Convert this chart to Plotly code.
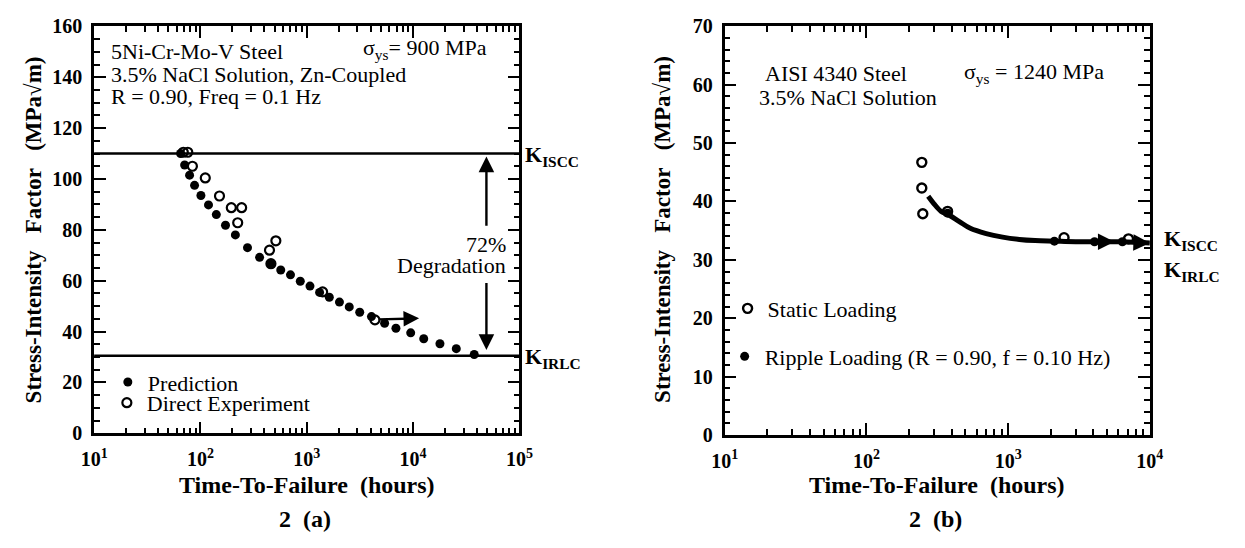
import numpy as np
import plotly.graph_objects as go

W, H = 1245, 548

# ---------------- Panel 2(a) data ----------------
a_pred_t = [65, 71, 79, 88, 101, 119, 141, 172, 213, 277, 360, 460, 569, 703, 869,
            1072, 1320, 1630, 2030, 2510, 3150, 4060, 5400, 6900, 9500, 12600,
            17900, 25500, 37600]
a_pred_k = [110, 105.5, 101.5, 97.5, 93.5, 89.8, 86.0, 81.8, 78.0, 73.0, 69.2, 66.5,
            64.2, 62.3, 59.8, 57.9, 55.4, 53.5, 51.6, 49.7, 47.6, 45.9, 43.3, 41.3,
            39.5, 37.2, 35.2, 33.3, 31.0]
a_exp_t = [69, 76, 84, 111, 151, 195, 244, 224, 512, 446, 460, 1410, 4380]
a_exp_k = [110.5, 110.5, 105.0, 100.4, 93.3, 88.7, 88.7, 82.8, 75.7, 72.0, 66.7, 55.6, 44.6]
a_kiscc = 110
a_kirlc = 30.5
a_y_ticks = [0, 20, 40, 60, 80, 100, 120, 140, 160]

# ---------------- Panel 2(b) data ----------------
b_curve_t = [273, 300, 337, 374, 450, 541, 700, 914, 1200, 1550, 2120, 3000, 4070, 6400, 10000]
b_curve_k = [40.9, 39.6, 38.3, 37.8, 36.6, 35.4, 34.5, 33.9, 33.5, 33.3, 33.2, 33.1, 33.1, 33.1, 32.9]
b_ripple_t = [374, 2120, 4070, 6400]
b_ripple_k = [38.0, 33.2, 33.1, 33.1]
b_static_t = [246, 246, 250, 374, 2480, 7070]
b_static_k = [46.7, 42.3, 37.9, 38.3, 33.8, 33.6]
b_y_ticks = [0, 10, 20, 30, 40, 50, 60, 70]

x_decades_a = [1, 2, 3, 4, 5]
x_decades_b = [1, 2, 3, 4]

SERIF = "Liberation Serif"
NB = "\u00a0"


def px(x):
    return x / W


def py(y):
    return 1 - y / H


def minor_log(decs):
    vals = []
    for d in decs[:-1]:
        for m in range(2, 10):
            vals.append(m * 10 ** d)
    return vals


def log_ticktext(decs):
    return [f"10<sup>{d}</sup>" for d in decs]


fig = go.Figure()

# Panel (a)
fig.add_trace(go.Scatter(x=a_pred_t, y=a_pred_k, mode="markers", name="Prediction",
                         marker=dict(symbol="circle", size=9, color="black"),
                         xaxis="x", yaxis="y", legend="legend", cliponaxis=False))
fig.add_trace(go.Scatter(x=a_exp_t, y=a_exp_k, mode="markers", name="Direct Experiment",
                         marker=dict(symbol="circle-open", size=9, color="black",
                                     line=dict(width=2.2, color="black")),
                         xaxis="x", yaxis="y", legend="legend2", cliponaxis=False))

# Panel (b)
fig.add_trace(go.Scatter(x=b_curve_t, y=b_curve_k, mode="lines", showlegend=False,
                         line=dict(color="black", width=5, shape="spline"),
                         xaxis="x2", yaxis="y2"))
fig.add_trace(go.Scatter(x=b_static_t, y=b_static_k, mode="markers", name="Static Loading",
                         marker=dict(symbol="circle-open", size=9, color="black",
                                     line=dict(width=2.4, color="black")),
                         xaxis="x2", yaxis="y2", legend="legend3"))
fig.add_trace(go.Scatter(x=b_ripple_t, y=b_ripple_k, mode="markers",
                         name="Ripple Loading (R = 0.90, f = 0.10 Hz)",
                         marker=dict(symbol="circle", size=9, color="black"),
                         xaxis="x2", yaxis="y2", legend="legend4"))

# Horizontal K lines in panel (a)
for kv in (a_kiscc, a_kirlc):
    fig.add_shape(type="line", xref="x domain", yref="y", x0=0, x1=1, y0=kv, y1=kv,
                  line=dict(color="black", width=2.6))

axis_common = dict(showline=True, linecolor="black", linewidth=2.6, mirror="allticks",
                   ticks="inside", ticklen=12, tickwidth=2.2, tickcolor="black",
                   showgrid=False, zeroline=False,
                   tickfont=dict(family=SERIF, size=20, color="black", weight="bold"))

fig.update_layout(
    width=W, height=H, margin=dict(l=0, r=0, t=0, b=0),
    paper_bgcolor="white", plot_bgcolor="white",
    xaxis=dict(type="log", range=[1, 5], domain=[px(82), px(517)], anchor="y",
               tickmode="array", tickvals=[10 ** d for d in x_decades_a],
               ticktext=log_ticktext(x_decades_a), ticklabelstandoff=6,
               minor=dict(tickmode="array", tickvals=minor_log(x_decades_a), ticks="inside",
                          ticklen=6, tickwidth=2, tickcolor="black"),
               **axis_common),
    yaxis=dict(range=[0, 160], domain=[py(440), py(16)], anchor="x",
               tickmode="array", tickvals=a_y_ticks, ticklabelstandoff=5,
               minor=dict(dtick=5, ticks="inside", ticklen=6, tickwidth=2, tickcolor="black"),
               **axis_common),
    xaxis2=dict(type="log", range=[1, 4], domain=[px(727), px(1162)], anchor="y2",
                tickmode="array", tickvals=[10 ** d for d in x_decades_b],
                ticktext=log_ticktext(x_decades_b), ticklabelstandoff=6,
                minor=dict(tickmode="array", tickvals=minor_log(x_decades_b), ticks="inside",
                           ticklen=6, tickwidth=2, tickcolor="black"),
                **axis_common),
    yaxis2=dict(range=[0, 70], domain=[py(441.7), py(16)], anchor="x2",
                tickmode="array", tickvals=b_y_ticks, ticklabelstandoff=5,
                minor=dict(dtick=2, ticks="inside", ticklen=6, tickwidth=2, tickcolor="black"),
                **axis_common),
)

leg_font = dict(family=SERIF, size=22, color="black")
leg_common = dict(font=leg_font, bgcolor="rgba(0,0,0,0)", borderwidth=0,
                  xanchor="left", yanchor="middle", itemsizing="trace")
fig.update_layout(
    legend=dict(x=px(96), y=py(386.7), **leg_common),
    legend2=dict(x=px(95), y=py(408.3), **leg_common),
    legend3=dict(x=px(730), y=py(310), **leg_common),
    legend4=dict(x=px(727), y=py(360), **leg_common),
)

ann = []


def text(x, y, s, size=22, bold=False, xanchor="left", angle=0):
    ann.append(dict(xref="paper", yref="paper", x=px(x), y=py(y), text=s, showarrow=False,
                    xanchor=xanchor, yanchor="middle", textangle=angle,
                    font=dict(family=SERIF, size=size, color="black",
                              weight="bold" if bold else "normal")))


xtitle = f"Time-To-Failure{NB}{NB}(hours)"
ytitle = f"Stress-Intensity{NB}{NB}{NB}Factor{NB}{NB}{NB}(MPa√m)"

# panel (a) texts
text(97, 42, "5Ni-Cr-Mo-V Steel")
text(97, 66, "3.5% NaCl Solution, Zn-Coupled")
text(97, 89, "R = 0.90, Freq = 0.1 Hz")
text(355, 40, "σ<sub>ys</sub>= 900 MPa")
text(505, 243, "72%", size=22, xanchor="right")
text(505, 265, "Degradation", size=22, xanchor="right")
text(521, 151, "K<sub>ISCC</sub>", size=22, bold=True)
text(521, 362, "K<sub>IRLC</sub>", size=22, bold=True)
text(299.5, 494, xtitle, size=24, bold=True, xanchor="center")
text(298, 529, f"2{NB}{NB}(a)", size=24, bold=True, xanchor="center")
text(20, 228, ytitle, size=23, bold=True, xanchor="center", angle=-90)

# panel (b) texts
text(766, 65, "AISI 4340 Steel")
text(970, 65, "σ<sub>ys</sub> = 1240 MPa")
text(760, 90, "3.5% NaCl Solution")
text(1174, 239, "K<sub>ISCC</sub>", size=22, bold=True)
text(1174, 271, "K<sub>IRLC</sub>", size=22, bold=True)
text(944.5, 494, xtitle, size=24, bold=True, xanchor="center")
text(943, 529, f"2{NB}{NB}(b)", size=24, bold=True, xanchor="center")
text(664, 228, ytitle, size=23, bold=True, xanchor="center", angle=-90)


def arrow(xr, yr, x_tip, y_tip, x_tail, y_tail, size=1.3, width=2.4):
    ann.append(dict(xref=xr, yref=yr, axref=xr, ayref=yr,
                    x=np.log10(x_tip), y=y_tip,
                    ax=np.log10(x_tail), ay=y_tail, text="", showarrow=True,
                    arrowhead=2, arrowsize=size, arrowwidth=width, arrowcolor="black"))


# panel (a) arrows
arrow("x", "y", 11400, 45.2, 4600, 44.8)
arrow("x", "y", 10 ** 4.69, 108.8, 10 ** 4.69, 81.0)
arrow("x", "y", 10 ** 4.69, 32.8, 10 ** 4.69, 59.7)
# panel (b) arrows
arrow("x2", "y2", 10 ** 3.75, 33.1, 10 ** 3.6, 33.1, size=1.1, width=3)
arrow("x2", "y2", 10 ** 4.0, 32.9, 10 ** 3.86, 33.0, size=1.1, width=3)

fig.update_layout(annotations=ann)

fig.write_html("out.html")
